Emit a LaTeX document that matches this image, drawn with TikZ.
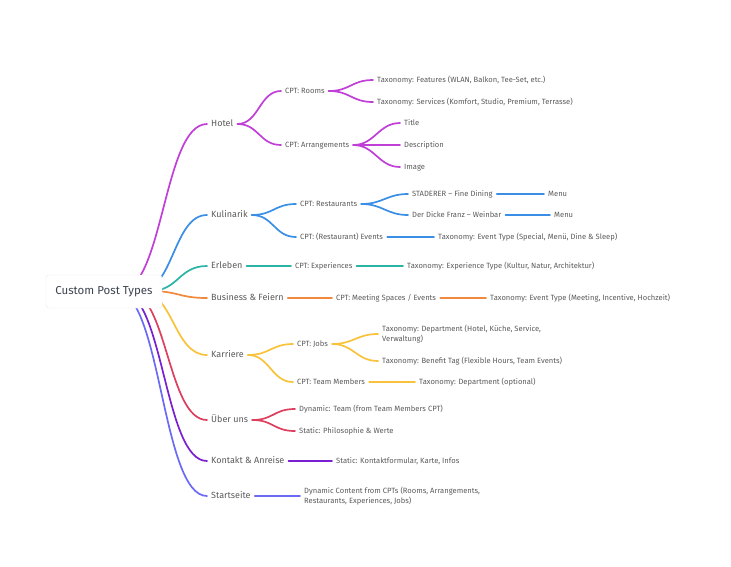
\documentclass[tikz,border=0pt]{standalone}
\usepackage{fontspec}
\setmainfont{Fira Sans}
\definecolor{hotelc}{HTML}{C03FD6}
\definecolor{kulc}{HTML}{3A8EE6}
\definecolor{erlc}{HTML}{2BB3A3}
\definecolor{busc}{HTML}{F0883E}
\definecolor{karc}{HTML}{F8C33A}
\definecolor{uberc}{HTML}{DD3F5E}
\definecolor{konc}{HTML}{7A1FD1}
\definecolor{stac}{HTML}{6A6AF7}
\definecolor{txt}{HTML}{5A5A5A}
\definecolor{roottxt}{HTML}{3C4350}
\begin{document}
\begin{tikzpicture}[x=1pt,y=-1pt,
  lone/.style={font=\fontsize{9}{11}\selectfont, text=txt, anchor=west, inner xsep=4pt, inner ysep=0pt, text height=6.5pt, text depth=1.6pt},
  ltwo/.style={font=\fontsize{7.6}{11}\selectfont, text=txt, anchor=west, inner xsep=4pt, inner ysep=0pt, text height=5.6pt, text depth=1.2pt},
  ltwoml/.style={font=\fontsize{7.6}{10.5}\selectfont, text=txt, anchor=west, inner xsep=4pt, inner ysep=0pt, align=left},
  link/.style={line width=1.7pt, line cap=round},
  fork/.style={link, out=0, in=180, distance=21.5pt},
  rootbox/.style={draw=black!9, fill=white, rounded corners=3pt, minimum width=116pt, minimum height=33pt, inner sep=0pt, font=\fontsize{11.5}{14}\selectfont, text=roottxt}
]
\useasboundingbox (0,0) rectangle (731,566);

% level 1
\node[lone] (hotel) at (207,124) {Hotel};
\node[lone] (kul) at (207,215) {Kulinarik};
\node[lone] (erl) at (207,266) {Erleben};
\node[lone] (bus) at (207,298) {Business \& Feiern};
\node[lone] (kar) at (207,355) {Karriere};
\node[lone] (uber) at (207,420) {Über uns};
\node[lone] (kon) at (207,461) {Kontakt \& Anreise};
\node[lone] (sta) at (207,496) {Startseite};

% Hotel subtree
\node[ltwo] (rooms) at (281,91) {CPT: Rooms};
\node[ltwo] (arr) at (281,145) {CPT: Arrangements};
\node[ltwo] (feat) at (373,80) {Taxonomy: Features (WLAN, Balkon, Tee-Set, etc.)};
\node[ltwo] (serv) at (373,102) {Taxonomy: Services (Komfort, Studio, Premium, Terrasse)};
\node[ltwo] (title) at (400,123) {Title};
\node[ltwo] (desc) at (400,145) {Description};
\node[ltwo] (img) at (400,167) {Image};

% Kulinarik subtree
\node[ltwo] (rest) at (296,204) {CPT: Restaurants};
\node[ltwo] (revt) at (296,237) {CPT: (Restaurant) Events};
\node[ltwo] (stad) at (408,194) {STADERER – Fine Dining};
\node[ltwo] (franz) at (408,215) {Der Dicke Franz – Weinbar};
\node[ltwo] (menua) at (544,194) {Menu};
\node[ltwo] (menub) at (550,215) {Menu};
\node[ltwo] (evtype) at (434,237) {Taxonomy: Event Type (Special, Menü, Dine \& Sleep)};

% Erleben
\node[ltwo] (exp) at (291,266) {CPT: Experiences};
\node[ltwo] (exptype) at (403,266) {Taxonomy: Experience Type (Kultur, Natur, Architektur)};

% Business
\node[ltwo] (meet) at (332,298) {CPT: Meeting Spaces / Events};
\node[ltwo] (meettype) at (486,298) {Taxonomy: Event Type (Meeting, Incentive, Hochzeit)};

% Karriere
\node[ltwo] (jobs) at (293,344) {CPT: Jobs};
\node[ltwo] (team) at (293,382) {CPT: Team Members};
\node[ltwoml] (dept) at (378,334) {Taxonomy: Department (Hotel, Küche, Service,\\Verwaltung)};
\node[ltwo] (benef) at (378,361) {Taxonomy: Benefit Tag (Flexible Hours, Team Events)};
\node[ltwo] (deptopt) at (415,382) {Taxonomy: Department (optional)};

% Über uns
\node[ltwo] (dyn) at (295,409) {Dynamic: Team (from Team Members CPT)};
\node[ltwo] (stat) at (295,431) {Static: Philosophie \& Werte};

% Kontakt
\node[ltwo] (kform) at (332,461) {Static: Kontaktformular, Karte, Infos};

% Startseite
\node[ltwoml] (dync) at (300,496) {Dynamic Content from CPTs (Rooms, Arrangements,\\Restaurants, Experiences, Jobs)};

% root edges
\coordinate (s1) at (120,291);
\coordinate (s2) at (140,291);
\coordinate (s3) at (150,291);
\coordinate (s4) at (150,291);
\coordinate (s5) at (140,291);
\coordinate (s6) at (128,291);
\coordinate (s7) at (121,291);
\coordinate (s8) at (116,291);
\draw[link, hotelc] (s1) to[out=0,in=180,distance=43.5pt] (hotel.west);
\draw[link, kulc] (s2) to[out=0,in=180,distance=33.5pt] (kul.west);
\draw[link, erlc] (s3) to[out=0,in=180,distance=28.5pt] (erl.west);
\draw[link, busc] (s4) to[out=0,in=180,distance=28.5pt] (bus.west);
\draw[link, karc] (s5) to[out=0,in=180,distance=33.5pt] (kar.west);
\draw[link, uberc] (s6) to[out=0,in=180,distance=39.5pt] (uber.west);
\draw[link, konc] (s7) to[out=0,in=180,distance=43pt] (kon.west);
\draw[link, stac] (s8) to[out=0,in=180,distance=45.5pt] (sta.west);

% root node on top
\node[rootbox] (root) at (104,291.5) {Custom Post Types};

% Hotel links
\draw[fork, hotelc] (hotel.east) to (rooms.west);
\draw[fork, hotelc] (hotel.east) to (arr.west);
\draw[fork, hotelc] (rooms.east) to (feat.west);
\draw[fork, hotelc] (rooms.east) to (serv.west);
\draw[fork, hotelc] (arr.east) to (title.west);
\draw[fork, hotelc] (arr.east) to (desc.west);
\draw[fork, hotelc] (arr.east) to (img.west);

% Kulinarik links
\draw[fork, kulc] (kul.east) to (rest.west);
\draw[fork, kulc] (kul.east) to (revt.west);
\draw[fork, kulc] (rest.east) to (stad.west);
\draw[fork, kulc] (rest.east) to (franz.west);
\draw[link, kulc] (stad.east) -- (menua.west);
\draw[link, kulc] (franz.east) -- (menub.west);
\draw[link, kulc] (revt.east) -- (evtype.west);

% Erleben
\draw[link, erlc] (erl.east) -- (exp.west);
\draw[link, erlc] (exp.east) -- (exptype.west);

% Business
\draw[link, busc] (bus.east) -- (meet.west);
\draw[link, busc] (meet.east) -- (meettype.west);

% Karriere
\draw[fork, karc] (kar.east) to (jobs.west);
\draw[fork, karc] (kar.east) to (team.west);
\draw[fork, karc] (jobs.east) to (dept.west);
\draw[fork, karc] (jobs.east) to (benef.west);
\draw[link, karc] (team.east) -- (deptopt.west);

% Über uns
\draw[fork, uberc] (uber.east) to (dyn.west);
\draw[fork, uberc] (uber.east) to (stat.west);

% Kontakt
\draw[link, konc] (kon.east) -- (kform.west);

% Startseite
\draw[link, stac] (sta.east) -- (dync.west);
\end{tikzpicture}
\end{document}
